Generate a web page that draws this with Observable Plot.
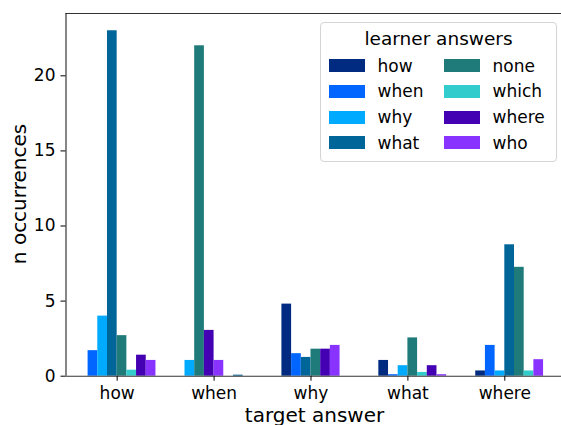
<!DOCTYPE html>
<html><head><meta charset="utf-8">
<script src="https://cdn.jsdelivr.net/npm/d3@7"></script>
<script src="https://cdn.jsdelivr.net/npm/@observablehq/plot@0.6"></script>
<style>
body{margin:0;background:#fff;font-family:"DejaVu Sans",sans-serif;}
#wrap{position:relative;width:561px;height:425px;overflow:hidden;background:#fff;}
#legend{position:absolute;left:320px;top:22px;width:237px;height:140px;box-sizing:border-box;border:1px solid #d4d4d4;border-radius:4px;background:rgba(255,255,255,0.85);}
#legend .title{position:absolute;left:0;top:7px;width:100%;text-align:center;font-size:18.5px;line-height:18.5px;color:#000;white-space:nowrap;}
#legend .patch{position:absolute;width:36px;height:13px;}
#legend .lab{position:absolute;font-size:17px;line-height:26px;color:#000;white-space:nowrap;}
</style>
</head><body>
<div id="wrap"></div>
<script>
const targets = ["how","when","why","what","where"];
const learners = ["how","when","why","what","none","which","where","who"];
const colors = ["#002b80","#0066ff","#00aaff","#006699","#1f7a7a","#33cccc","#4400b3","#8833ff"];
const yTicks = [0,5,10,15,20];

// bar order as seen within each target group (null = empty slot)
const howOrder   = ["when","why","what","none","which","where","who"];
const howValues  = [1.7, 4.0, 23, 2.7, 0.4, 1.4, 1.05];
const whenOrder  = ["why","none","where","who",null,"what",null];
const whenValues = [1.05, 22, 3.05, 1.05, 0, 0.07, 0];
const whyOrder   = ["how","when","what","none","where","who",null];
const whyValues  = [4.8, 1.5, 1.25, 1.8, 1.8, 2.05, 0];
const whatOrder  = ["how","when","why","none","which","where","who"];
const whatValues = [1.05, 0.1, 0.7, 2.55, 0.25, 0.7, 0.1];
const whereOrder = ["how","when","why","what","none","which","who"];
const whereValues= [0.35, 2.05, 0.35, 8.75, 7.25, 0.35, 1.1];

const orders = [howOrder, whenOrder, whyOrder, whatOrder, whereOrder];
const values = [howValues, whenValues, whyValues, whatValues, whereValues];

const barW = 0.1;
const bars = [];
orders.forEach((ord, t) => {
  ord.forEach((l, s) => {
    if (l === null || values[t][s] <= 0) return;
    const x1 = t + (s - 3) * barW;
    bars.push({target: targets[t], learner: l, value: values[t][s], x1, x2: x1 + barW});
  });
});

const xDomain = [-0.528, 4.585];
const yDomain = [0, 24.15];

const chart = Plot.plot({
  width: 561, height: 425,
  marginLeft: 65.5, marginRight: 0, marginTop: 13, marginBottom: 49.3,
  style: {fontFamily: "DejaVu Sans", fontSize: "17px", background: "white", color: "black"},
  x: {domain: xDomain, axis: null},
  y: {domain: yDomain, axis: null},
  color: {domain: learners, range: colors},
  marks: [
    Plot.rectY(bars, {x1: "x1", x2: "x2", y1: 0, y2: "value", fill: "learner"}),
    Plot.ruleY([yDomain[0]], {stroke: "#333", strokeWidth: 1.1}),
    Plot.ruleY([yDomain[1]], {stroke: "#333", strokeWidth: 1.1}),
    Plot.ruleX([xDomain[0]], {y1: yDomain[0], y2: yDomain[1], stroke: "#222", strokeWidth: 1.1}),
    Plot.axisX({ticks: d3.range(targets.length), tickFormat: i => targets[i], tickSize: 5, tickPadding: 6, fontSize: 17, label: null}),
    Plot.axisY({ticks: yTicks, tickSize: 5, tickPadding: 5.5, fontSize: 17, label: null})
  ]
});

const wrap = document.getElementById("wrap");
wrap.appendChild(chart);
const svg = d3.select(chart);
svg.append("text").attr("x", 314.5).attr("y", 421.5).attr("text-anchor", "middle")
  .attr("font-size", 20).attr("fill", "#000").text("target answer");
svg.append("text").attr("transform", "translate(25.5,194) rotate(-90)").attr("text-anchor", "middle")
  .attr("font-size", 20).attr("fill", "#000").text("n occurrences");

// legend
const lg = document.createElement("div");
lg.id = "legend";
const tt = document.createElement("div");
tt.className = "title"; tt.textContent = "learner answers";
lg.appendChild(tt);
learners.forEach((l, i) => {
  const col = Math.floor(i / 4), row = i % 4;
  const cy = 42.5 + row * 25.8;
  const p = document.createElement("div");
  p.className = "patch";
  p.style.left = (8 + col * 115) + "px";
  p.style.top = (cy - 6.5) + "px";
  p.style.background = colors[i];
  lg.appendChild(p);
  const t = document.createElement("div");
  t.className = "lab";
  t.style.left = (8 + col * 115 + 48.5) + "px";
  t.style.top = (cy - 13) + "px";
  t.textContent = l;
  lg.appendChild(t);
});
wrap.appendChild(lg);
</script>
</body></html>
